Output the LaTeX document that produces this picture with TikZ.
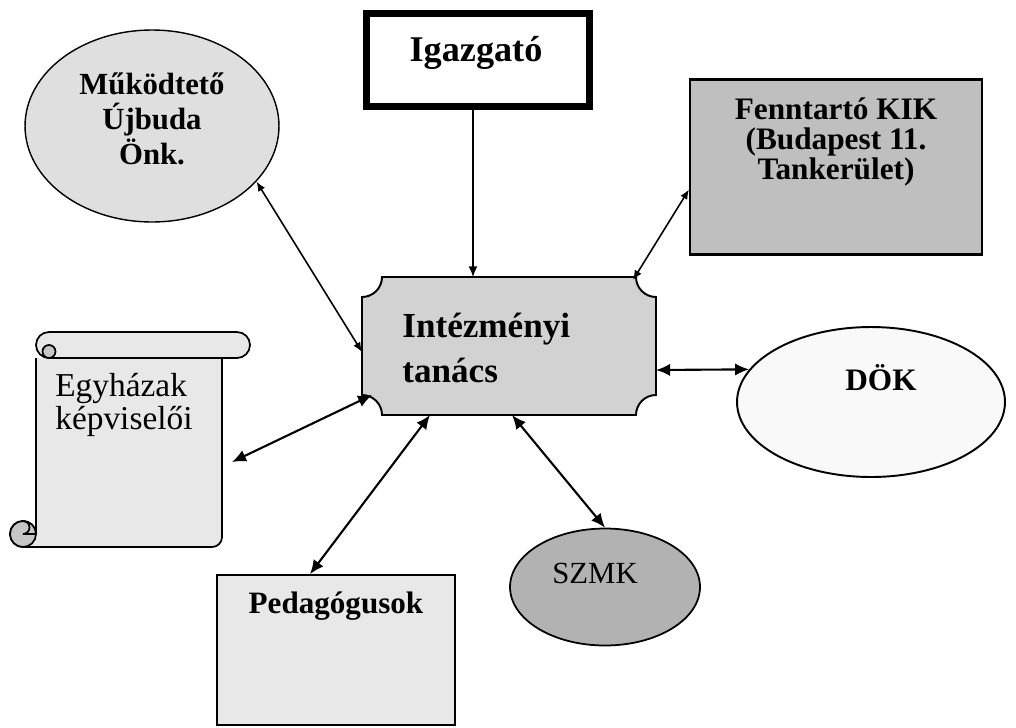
\documentclass[tikz,border=0pt]{standalone}
\usepackage{fontspec}
\setmainfont{Liberation Serif}
\usetikzlibrary{arrows.meta, shapes.geometric}

\tikzset{
  unit/.style={draw=none, inner sep=0pt, outer sep=0pt},
  lbl/.style={inner sep=0pt, align=center},
  link/.style={line width=1.2pt, {Latex[length=8pt,width=7pt]}-{Latex[length=8pt,width=7pt]}},
  thinlink/.style={line width=0.9pt, {Latex[length=5.5pt,width=4.5pt]}-{Latex[length=5.5pt,width=4.5pt]}},
}

\begin{document}
\begin{tikzpicture}[x=0.02cm, y=-0.02cm]
  \useasboundingbox (0,0) rectangle (1016,727);

  % boxes
  \node (igaz) at (478,60) [draw, line width=4pt, minimum width=4.46cm, minimum height=1.86cm, inner sep=0pt] {};
  \node (mukod) at (152,126) [ellipse, draw, line width=0.8pt, fill=gray!25, minimum width=5.08cm, minimum height=3.84cm, inner sep=0pt] {};
  \node (fenn) at (836,167) [draw, line width=1.2pt, fill=gray!50, minimum width=5.84cm, minimum height=3.5cm] {};
  \node (dok) at (871,402) [ellipse, draw, line width=1.1pt, fill=gray!5, minimum width=5.36cm, minimum height=3cm, inner sep=0pt] {};
  \node (ped) at (336,650) [draw, line width=1pt, fill=gray!18, minimum width=4.76cm, minimum height=3cm] {};
  \node (szmk) at (605,587) [ellipse, draw, line width=1pt, fill=gray!60, minimum width=3.8cm, minimum height=2.34cm, inner sep=0pt] {};

  % plaque
  \draw [line width=1.1pt, fill=gray!35] (382,277) -- (636,277) arc[start angle=180, end angle=90, radius=20]
    -- (656,395) arc[start angle=270, end angle=180, radius=20]
    -- (382,415) arc[start angle=0, end angle=-90, radius=20]
    -- (362,297) arc[start angle=90, end angle=0, radius=20] -- cycle;
  \node (tanacs) at (509,346) [unit, minimum width=5.88cm, minimum height=2.76cm] {};

  % scroll
  \draw [line width=1pt, fill=gray!18] (36,358) -- (36,534) arc[start angle=0, end angle=-270, radius=13]
    -- (212,547) arc[start angle=90, end angle=0, radius=10] -- (222,358);
  \draw [line width=1pt, fill=gray!18] (49,332) -- (237,332) arc[start angle=-90, end angle=90, radius=13]
    -- (49,358) arc[start angle=90, end angle=270, radius=13] -- cycle;
  \draw [line width=1pt, fill=gray!45] (49,351.5) circle[radius=6.5];
  \draw [line width=1pt, fill=gray!45] (23,534) circle[radius=13];
  \draw [line width=1pt] (23,521) arc[start angle=-90, end angle=90, radius=6.5] -- (36,534);
  \node (egyh) at (129,440) [unit, minimum width=3.72cm, minimum height=4.3cm] {};

  % texts
  \node (igaz-txt) at (476,53) [lbl, font=\bfseries\fontsize{20.6}{24}\selectfont] {Igazgató};
  \node (mukod-txt) at (152,119) [lbl, font=\bfseries\fontsize{17.5}{19.8}\selectfont] {Működtető\\Újbuda\\Önk.};
  \node (fenn-txt) at (836,142) [lbl, font=\bfseries\fontsize{17.8}{17}\selectfont] {Fenntartó KIK\\(Budapest 11.\\Tankerület)};
  \node (tanacs-txt) at (402,348) [lbl, anchor=west, align=left, font=\bfseries\fontsize{20}{25.5}\selectfont] {Intézményi\\tanács};
  \node (dok-txt) at (881,378) [lbl, font=\bfseries\fontsize{17.8}{20}\selectfont] {DÖK};
  \node (egyh-txt) at (55,405) [lbl, anchor=west, align=left, font=\fontsize{19}{19}\selectfont] {Egyházak\\képviselői};
  \node (ped-txt) at (336,606) [lbl, font=\bfseries\fontsize{17.7}{20}\selectfont] {Pedagógusok};
  \node (szmk-txt) at (595,573) [lbl, font=\fontsize{17.5}{20}\selectfont] {SZMK};

  % connectors
  \draw [line width=0.8pt, -{Latex[length=6pt,width=5pt]}] ([xshift=-0.1cm]igaz.south) -- ([xshift=-0.1cm]igaz.south |- tanacs.north);
  \draw [thinlink] (mukod.-28) -- ([yshift=-0.12cm]tanacs.west);
  \draw [thinlink] ([xshift=-0.46cm,yshift=-0.06cm]tanacs.north east) -- ([yshift=-0.45cm]fenn.west);
  \draw [link] ([yshift=-0.48cm]tanacs.east) -- (dok.165);
  \draw [link] ([xshift=0.2cm,yshift=0.4cm]tanacs.south west) -- ([xshift=0.2cm,yshift=-0.44cm]egyh.east);
  \draw [link] ([xshift=-1.58cm]tanacs.south) -- ([xshift=-0.52cm]ped.north);
  \draw [link] ([xshift=0.06cm]tanacs.south) -- (szmk.north);
\end{tikzpicture}
\end{document}
